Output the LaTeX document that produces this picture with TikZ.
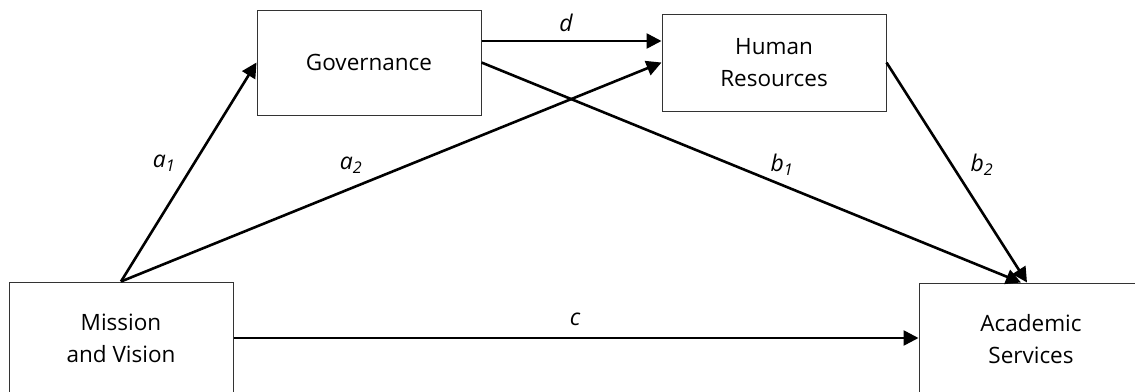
\documentclass[tikz,border=0pt]{standalone}
\usepackage{fontspec}
\setmainfont{Open Sans}
\usetikzlibrary{arrows.meta}
\begin{document}
\begin{tikzpicture}[x=1pt,y=-1pt,
  box/.style={draw=black!80,line width=1pt,inner sep=0pt,align=center,font=\fontsize{22.5}{32}\selectfont},
  conn/.style={line width=2.6pt,-{Triangle[length=15pt,width=15pt]}},
  lab/.style={font=\fontsize{23}{26}\selectfont\itshape,inner sep=0pt}]
\useasboundingbox[fill=white] (0,0) rectangle (1135,391);
\node[box,minimum width=224,minimum height=112] (mis) at (121,338) {Mission\\and Vision};
\node[box,minimum width=224,minimum height=105] (gov) at (369,62.5) {Governance};
\node[box,minimum width=224,minimum height=97] (hr) at (774,62.5) {Human\\Resources};
\node[box,minimum width=224,minimum height=112] (acad) at (1031,339) {Academic\\Services};
\coordinate (t1) at ([xshift=-10pt]acad.north);
\coordinate (t2) at ([xshift=-4pt]acad.north);
\draw[conn] (mis.north) -- (gov.west);
\draw[conn] (mis.north) -- (hr.west);
\draw[conn] ([yshift=21.5pt]gov.east) -- ([yshift=21.5pt]gov.east -| hr.west);
\draw[conn] (gov.east) -- (t1);
\draw[conn] (hr.east) -- (t2);
\draw[conn] (mis.east) -- (mis.east -| acad.west);
\node[lab] (la1) at (164,163) {a\textsubscript{1}};
\node[lab] (la2) at (351,165) {a\textsubscript{2}};
\node[lab] (ld) at (566,23) {d};
\node[lab] (lb1) at (782,165) {b\textsubscript{1}};
\node[lab] (lb2) at (982,165) {b\textsubscript{2}};
\node[lab] (lc) at (575,319) {c};
\end{tikzpicture}
\end{document}
